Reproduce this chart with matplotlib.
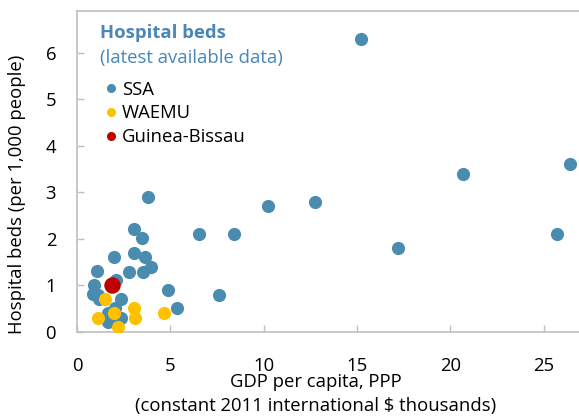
import matplotlib.pyplot as plt

plt.rcParams['font.family'] = ['Open Sans', 'DejaVu Sans']

# SSA countries: GDP per capita (thousands), hospital beds per 1,000
ssa_x = [0.93, 0.84, 1.11, 1.07, 1.20, 1.96, 2.10, 2.36, 2.77, 3.04, 3.04, 3.48,
         3.66, 3.98, 3.54, 3.83, 4.86, 5.36, 6.52, 8.43, 7.62, 10.21, 12.78,
         15.22, 17.22, 20.68, 25.71, 26.44, 1.65, 1.65, 2.05, 2.35, 1.95]
ssa_y = [1.00, 0.81, 0.79, 1.30, 0.71, 1.60, 1.11, 0.70, 1.29, 1.70, 2.20, 2.01,
         1.60, 1.40, 1.29, 2.90, 0.90, 0.50, 2.10, 2.10, 0.80, 2.70, 2.80,
         6.30, 1.80, 3.40, 2.10, 3.60, 0.40, 0.20, 0.50, 0.30, 0.30]

waemu_x = [1.48, 1.13, 2.00, 2.20, 3.03, 3.13, 4.64]
waemu_y = [0.70, 0.30, 0.40, 0.10, 0.51, 0.30, 0.40]

gb_x = [1.87]
gb_y = [1.00]

blue = '#4a8cb0'
yellow = '#ffc000'
red = '#c00000'
title_col = '#4a86b8'
grey = '#bfbfbf'
fs = 13.3

fig = plt.figure(figsize=(5.79, 4.18), dpi=100)
ax = fig.add_axes([77 / 579, 1 - 331.7 / 418, 1 - 77 / 579, 321.2 / 418])

ax.scatter(ssa_x, ssa_y, s=90, color=blue, linewidths=0, zorder=3)
ax.scatter(waemu_x, waemu_y, s=90, color=yellow, linewidths=0, zorder=4)
ax.scatter(gb_x, gb_y, s=140, color=red, linewidths=0, zorder=5)

ax.set_xlim(0, 26.9)
ax.set_ylim(0, 6.91)
ax.set_xticks([0, 5, 10, 15, 20, 25])
ax.set_yticks([0, 1, 2, 3, 4, 5, 6])

for side in ['left', 'bottom', 'top']:
    ax.spines[side].set_color(grey)
    ax.spines[side].set_linewidth(1.2)
ax.spines['right'].set_visible(False)
ax.tick_params(direction='in', length=5, width=1, color=grey, labelsize=fs)
ax.tick_params(axis='x', pad=18)
ax.tick_params(axis='y', pad=15)

ax.set_xlabel('GDP per capita, PPP\n(constant 2011 international $ thousands)',
              fontsize=fs, linespacing=1.4)
ax.xaxis.set_label_coords(0.476, -0.13)
ax.set_ylabel('Hospital beds (per 1,000 people)', fontsize=fs)
ax.yaxis.set_label_coords(-0.102, 0.429)

tr = ax.transAxes
ax.text(0.0458, 0.914, 'Hospital beds', transform=tr, color=title_col,
        fontsize=fs, fontweight='bold', va='baseline')
ax.text(0.0458, 0.837, '(latest available data)', transform=tr,
        color=title_col, fontsize=fs, va='baseline')
leg = [('SSA', blue, 0.737, 0.758), ('WAEMU', yellow, 0.664, 0.683),
       ('Guinea-Bissau', red, 0.591, 0.609)]
for lab, col, yb, ym in leg:
    ax.plot([0.0677], [ym], 'o', ms=6.5, color=col, mew=0, transform=tr)
    ax.text(0.0896, yb, lab, transform=tr, fontsize=fs, va='baseline')

fig.savefig('out.png', dpi=100)
